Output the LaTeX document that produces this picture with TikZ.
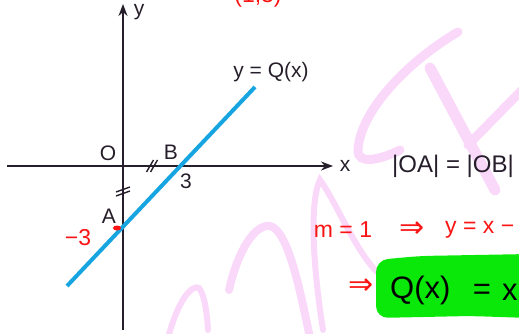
\documentclass[tikz,border=0pt]{standalone}
\usepackage{fontspec}
\setmainfont{Liberation Sans}
\newfontfamily\symfont{DejaVu Sans}
\usepackage{tikz}
\usetikzlibrary{positioning, arrows.meta, calc}
\usepackage{xcolor}
\definecolor{axGray}{RGB}{38, 30, 42}
\definecolor{qBlue}{RGB}{22, 165, 225}
\definecolor{penRed}{RGB}{250, 20, 20}
\definecolor{wmPink}{RGB}{250, 216, 250}
\definecolor{hlGreen}{RGB}{10, 232, 10}

\begin{document}
\begin{tikzpicture}[x=1pt, y=-1pt,
      lbl/.style={inner sep=0pt, font=\fontsize{21}{24}\selectfont, text=axGray},
      pen/.style={inner sep=0pt, font=\fontsize{23}{25}\selectfont, text=penRed},
      penarrow/.style={pen, font=\symfont\fontsize{30}{32}\selectfont},
      axis/.style={draw=axGray, line width=1.8pt, -{Stealth[length=12pt, width=9pt]}},
      qline/.style={draw=qBlue, line width=4pt},
      tick/.style={draw=axGray, line width=1.4pt},
      wm/.style={draw=wmPink, line cap=round}]
    \useasboundingbox (0,0) rectangle (519,334);
    \clip (0,0) rectangle (519,334);
    % watermark
    \draw[wm, line width=6pt]  (168,338) .. controls (178,300) and (192,284) .. (199,288)
                                .. controls (205,295) and (207,315) .. (208,330);
    \draw[wm, line width=8pt]  (229,290) .. controls (238,250) and (255,224) .. (270,226)
                                .. controls (288,230) and (300,290) .. (310,338);
    \draw[wm, line width=6pt]  (323,330) .. controls (312,260) and (310,200) .. (320,180)
                                .. controls (335,200) and (355,250) .. (377,272);
    \draw[wm, line width=9pt]  (458,32) .. controls (410,60) and (360,110) .. (358,150)
                                .. controls (357,165) and (380,160) .. (400,150);
    \draw[wm, line width=11pt] (430,68) -- (495,190);
    \draw[wm, line width=9pt]  (522,90) -- (468,145);
    % axes
    \coordinate (xs) at (7,166);
    \coordinate (xe) at (333,166);
    \coordinate (ys) at (123,330);
    \coordinate (ye) at (123,4);
    \draw[axis] (xs) -- (xe);
    \draw[axis] (ys) -- (ye);
    \node[lbl] (ylab) at (139,12) {y};
    \node[lbl] (xlab) at (345,166) {x};
    \node[lbl] (O) at (108,153) {O};
    \node[lbl] (B) at (171,152) {B};
    \node[lbl] (three) at (186,181) {3};
    \node[lbl] (A) at (109,216) {A};
    % line y = Q(x)
    \coordinate (lo) at (67,286);
    \coordinate (hi) at (255,87);
    \draw[qline] (lo) -- (hi);
    \node[lbl] (qlab) at (271,72) {y = Q(x)};
    % equal marks
    \coordinate (tx) at (152,166);
    \coordinate (ty) at (123,191.5);
    \draw[tick] ($(tx)+(-5.5,6)$) -- ++(7,-12);
    \draw[tick] ($(tx)+(-1.5,6)$) -- ++(7,-12);
    \draw[tick] ($(ty)+(-7,4.5)$) -- ++(14,-5);
    \draw[tick] ($(ty)+(-7,0.5)$) -- ++(14,-5);
    \node[lbl, anchor=west, font=\fontsize{24}{26}\selectfont] (eq) at (392,166) {|OA| = |OB|};
    % handwriting
    \node[pen, anchor=base] (top) at (258,3) {(1,3)};
    \node[pen] (mthree) at (78,238) {−3};
    \fill[penRed] (117,228) ellipse (4pt and 2.5pt);
    \node[pen] (slope) at (343,230) {m = 1};
    \node[penarrow] (imp1) at (412,230) {⇒};
    \node[pen, anchor=west] (yeq) at (445,230) {y = x −};
    \fill[hlGreen, rounded corners=12pt] (376,260) -- (420,256) -- (530,254) -- (530,318)
        -- (470,316) -- (376,318) -- cycle;
    \node[penarrow] (imp2) at (361,287) {⇒};
    \node[inner sep=0pt, anchor=west, font=\fontsize{31}{33}\selectfont] (res) at (390,290) {Q(x)};
    \node[inner sep=0pt, font=\fontsize{31}{33}\selectfont] (req) at (482,292) {=};
    \node[inner sep=0pt, anchor=west, font=\fontsize{31}{33}\selectfont] (rx) at (502,292) {x};
\end{tikzpicture}
\end{document}
